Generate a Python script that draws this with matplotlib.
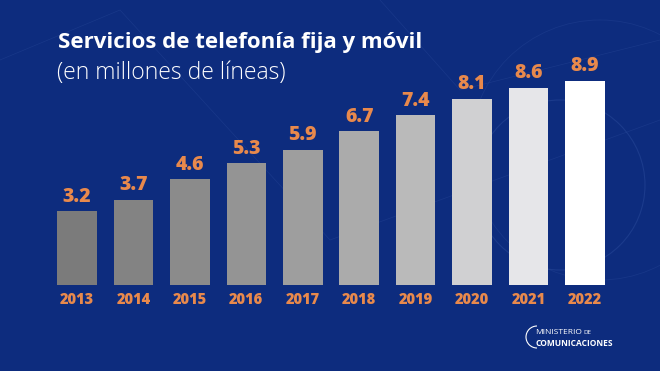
import matplotlib.pyplot as plt
from matplotlib.patches import Circle, Arc

years = ['2013', '2014', '2015', '2016', '2017', '2018', '2019', '2020', '2021', '2022']
values = [3.2, 3.7, 4.6, 5.3, 5.9, 6.7, 7.4, 8.1, 8.6, 8.9]
labels = ['3.2', '3.7', '4.6', '5.3', '5.9', '6.7', '7.4', '8.1', '8.6', '8.9']
bar_colors = ['#7b7b7b', '#838383', '#8b8b8b', '#949494', '#9e9e9e',
              '#ababab', '#bababa', '#d0d0d2', '#e6e6e9', '#ffffff']

bg = '#0d2c7e'
orange = '#e8894c'
font = ['Open Sans', 'DejaVu Sans']

fig = plt.figure(figsize=(6.6, 3.71), dpi=100)
fig.patch.set_facecolor(bg)

# faint background decoration
deco = fig.add_axes([0, 0, 1, 1])
deco.set_xlim(0, 660)
deco.set_ylim(371, 0)
deco.axis('off')
deco.add_patch(Circle((560, 185), 85, fill=False, ec='#2a4a9a', lw=0.8, alpha=0.5))
deco.add_patch(Circle((600, 150), 130, fill=False, ec='#2a4a9a', lw=0.6, alpha=0.35))
deco.plot([0, 120, 330, 660], [60, 10, 240, 120], color='#2a4a9a', lw=0.5, alpha=0.4)
deco.plot([380, 460, 660], [0, 90, 40], color='#2a4a9a', lw=0.5, alpha=0.4)

ax = fig.add_axes([0.074, 0.232, 0.855, 0.60])
ax.set_facecolor('none')
x = range(len(years))
bars = ax.bar(x, values, width=0.7, color=bar_colors)
ax.set_xlim(-0.5, len(years) - 0.5)
ax.set_ylim(0, 9.7)

for xi, v, lab in zip(x, values, labels):
    ax.text(xi, v + 0.2, lab, ha='center', va='bottom', color=orange,
            fontsize=14, fontweight='heavy', family=font)

ax.set_xticks(list(x))
ax.set_xticklabels(years, color=orange, fontsize=10.5, fontweight='heavy', family=font)
ax.tick_params(axis='x', length=0, pad=5)
ax.set_yticks([])
for s in ax.spines.values():
    s.set_visible(False)

fig.text(0.088, 0.885, 'Servicios de telefonía fija y móvil', color='white',
         fontsize=16, fontweight='bold', family=font, va='center')
fig.text(0.086, 0.803, '(en millones de líneas)', color='white',
         fontsize=16.5, fontweight='light', family=font, va='center')

# logo
deco.add_patch(Arc((537, 337), 22, 22, theta1=90, theta2=270, color='white', lw=0.8))
mt = deco.text(535, 332, 'MINISTERIO', color='white', fontsize=6, family=font, va='center')
fig.canvas.draw()
bb = mt.get_window_extent()
x_de = deco.transData.inverted().transform((bb.x1, bb.y0))[0] + 1.5
deco.text(x_de, 332, 'DE', color='white', fontsize=4.5, family=font, va='center')
deco.text(535, 343, 'COMUNICACIONES', color='white', fontsize=6, fontweight='bold',
          family=font, va='center')

fig.savefig('out.png', dpi=100, facecolor=bg)
